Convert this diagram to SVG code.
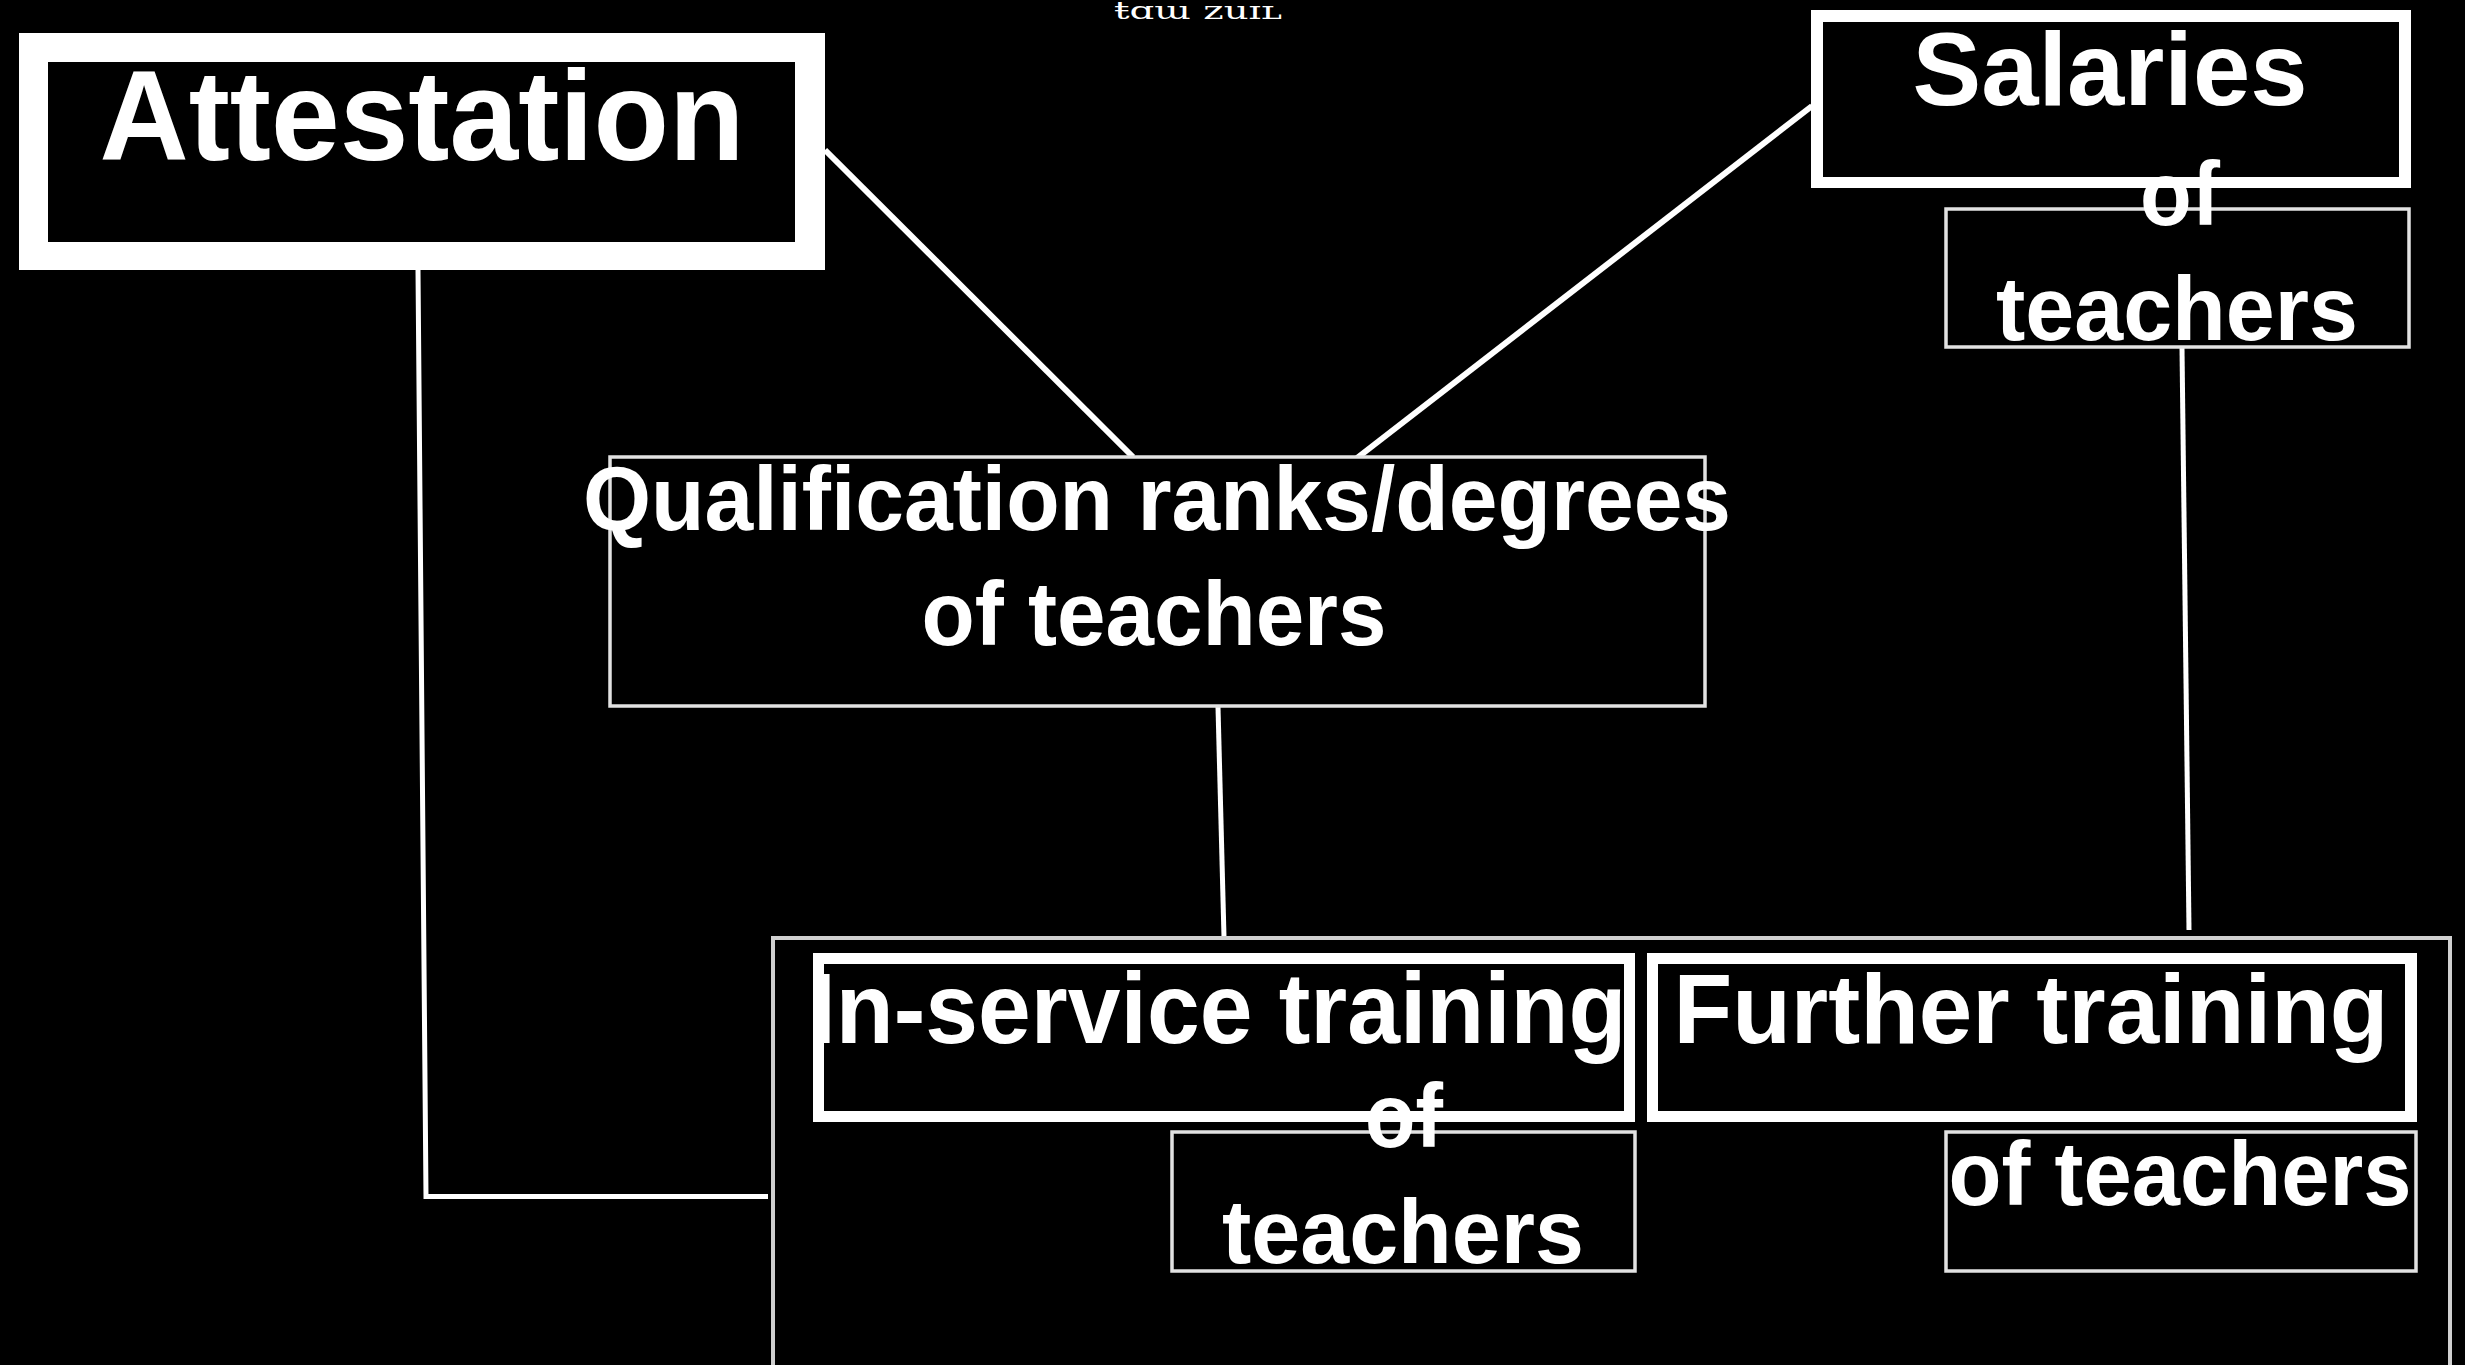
<svg xmlns="http://www.w3.org/2000/svg" width="2465" height="1365" viewBox="0 0 2465 1365">
<style>
.bg{fill:#000}
.frame-outer{fill:#fff}
.frame-inner{fill:#000}
.thin{fill:#000;stroke:#e2e2e2;stroke-width:3.5}
.container{fill:#000;stroke:#d0d0d0;stroke-width:4}
.conn{fill:none;stroke:#fff;stroke-width:5;stroke-linecap:butt;stroke-linejoin:miter}
.diag{stroke-width:6}
.lbl{fill:#fff;font-family:"Liberation Sans",Arial,sans-serif;font-weight:bold;text-anchor:middle}
.title{fill:#fff;font-family:"DejaVu Serif","Liberation Serif",serif;text-anchor:middle}
</style>
<rect class="bg" x="0" y="0" width="2465" height="1365"/>

<text class="title" x="1198" y="19" font-size="24" textLength="168" lengthAdjust="spacingAndGlyphs">ŧɑɯ zuɪʟ</text>

<g id="connectors">
  <line class="conn diag" x1="825" y1="150" x2="1133" y2="457"/>
  <line class="conn diag" x1="1812" y1="106" x2="1357" y2="458"/>
  <line class="conn" x1="1218" y1="707" x2="1224" y2="937"/>
  <line class="conn" x1="2182" y1="348" x2="2189" y2="930"/>
  <polyline class="conn" points="418,270 426,1196.5 768,1196.5"/>
</g>

<g id="training-container">
  <rect class="container" x="773" y="938" width="1677" height="500"/>
</g>

<g id="attestation">
  <rect class="frame-outer" x="19" y="33" width="806" height="237"/>
  <rect class="frame-inner" x="48" y="62" width="747" height="180"/>
  <text class="lbl" x="422" y="160" font-size="128" textLength="645" lengthAdjust="spacingAndGlyphs">Attestation</text>
</g>

<g id="salaries">
  <rect class="frame-outer" x="1811" y="10" width="600" height="178"/>
  <rect class="frame-inner" x="1823" y="22" width="576" height="155"/>
  <text class="lbl" x="2110" y="105" font-size="104" textLength="395" lengthAdjust="spacingAndGlyphs">Salaries</text>
</g>

<g id="salaries-of-teachers">
  <rect class="thin" x="1946" y="209" width="463" height="138"/>
  <text class="lbl" x="2180" y="225" font-size="90" textLength="80" lengthAdjust="spacingAndGlyphs">of</text>
  <text class="lbl" x="2177" y="340" font-size="90" textLength="362" lengthAdjust="spacingAndGlyphs">teachers</text>
</g>

<g id="qualification">
  <rect class="thin" x="610" y="457" width="1095" height="249"/>
  <text class="lbl" x="1157" y="530" font-size="90" textLength="1148" lengthAdjust="spacingAndGlyphs">Qualification ranks/degrees</text>
  <text class="lbl" x="1154" y="645" font-size="90" textLength="465" lengthAdjust="spacingAndGlyphs">of teachers</text>
</g>

<g id="in-service-training">
  <rect class="frame-outer" x="813" y="953" width="822" height="169"/>
  <rect class="frame-inner" x="824" y="964" width="800" height="147"/>
</g>

<g id="further-training">
  <rect class="frame-outer" x="1647" y="953" width="770" height="169"/>
  <rect class="frame-inner" x="1658" y="964" width="747" height="147"/>
  <text class="lbl" x="2031" y="1043" font-size="98" textLength="715" lengthAdjust="spacingAndGlyphs">Further training</text>
</g>

<g id="in-service-of-teachers">
  <rect class="thin" x="1172" y="1132" width="463" height="139"/>
</g>

<g id="further-of-teachers">
  <rect class="thin" x="1946" y="1132" width="470" height="139"/>
  <text class="lbl" x="2180" y="1205" font-size="90" textLength="463" lengthAdjust="spacingAndGlyphs">of teachers</text>
</g>

<g id="in-service-labels">
  <text class="lbl" x="1218" y="1043" font-size="100" textLength="817" lengthAdjust="spacingAndGlyphs">In-service training</text>
  <text class="lbl" x="1404" y="1147" font-size="90" textLength="78" lengthAdjust="spacingAndGlyphs">of</text>
  <text class="lbl" x="1403" y="1263" font-size="90" textLength="362" lengthAdjust="spacingAndGlyphs">teachers</text>
</g>
</svg>
